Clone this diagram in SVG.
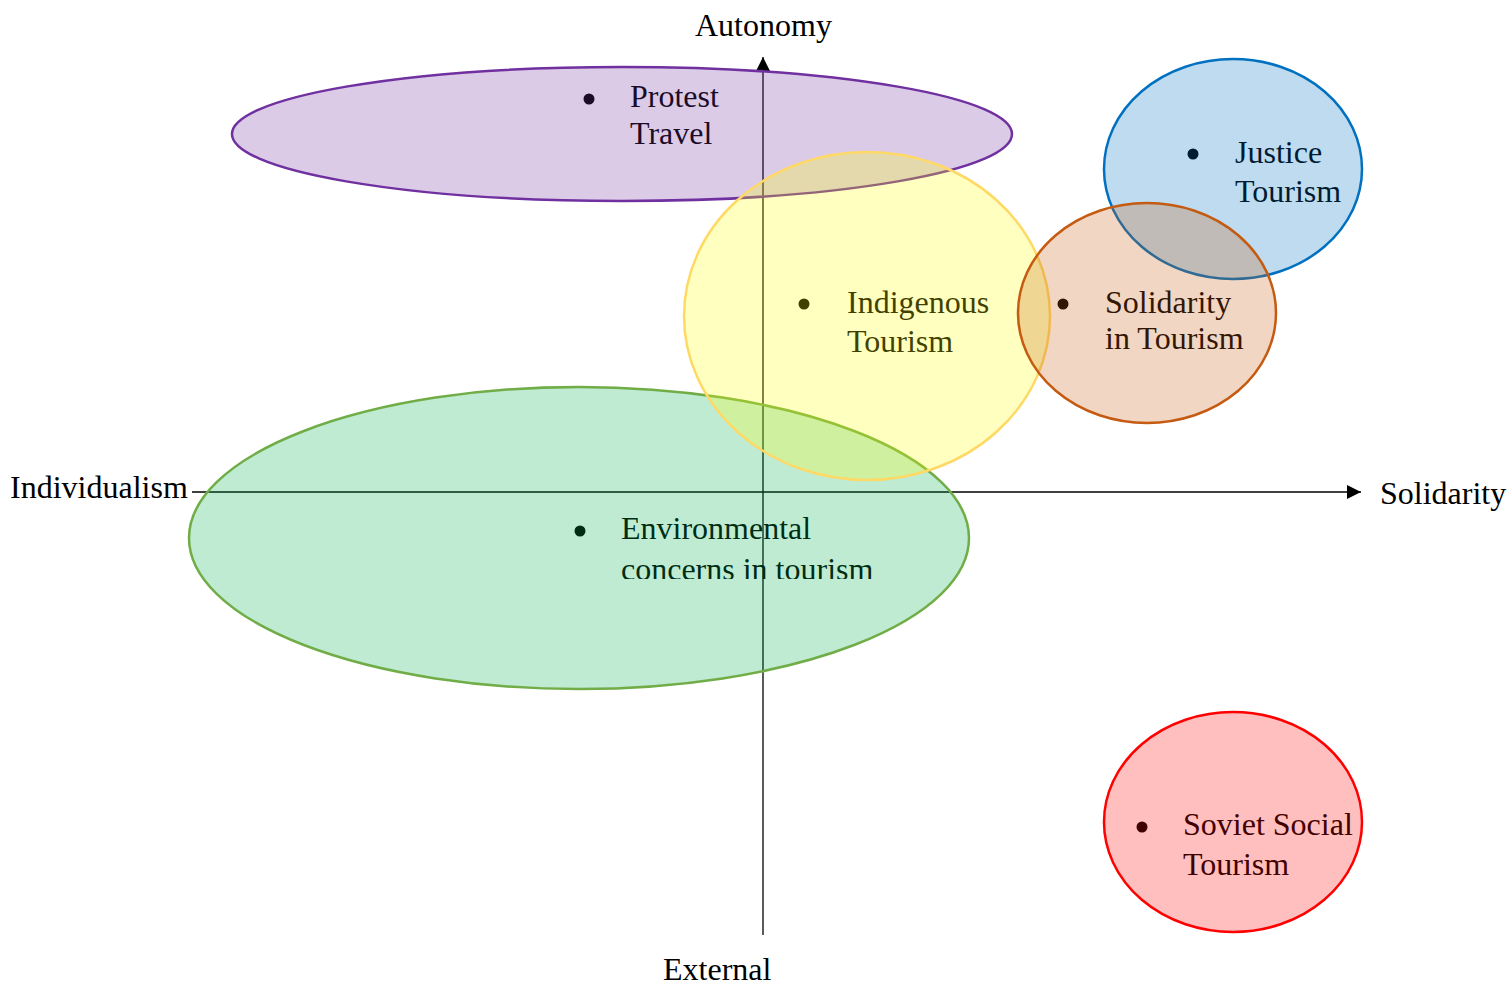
<svg xmlns="http://www.w3.org/2000/svg" width="1510" height="985" viewBox="0 0 1510 985">
<style>
text{font-family:"Liberation Serif","Times New Roman",serif;font-size:32px;fill:#000}
.ax{stroke:#000;stroke-width:1.3;fill:none}
.dot{fill:#000}
.e{stroke-width:2.5;fill-opacity:0.25}
</style>
<defs>
<marker id="arr" viewBox="0 0 10 10" refX="10" refY="5" markerWidth="16" markerHeight="14" markerUnits="userSpaceOnUse" orient="auto">
<path d="M0,0 L10,5 L0,10 Z" fill="#000"/>
</marker>
<clipPath id="envclip"><rect x="0" y="0" width="1510" height="579"/></clipPath>
</defs>
<rect width="1510" height="985" fill="#fff"/>
<g id="connectors">
<line class="ax" x1="763" y1="935" x2="763" y2="57" marker-end="url(#arr)"/>
<line class="ax" x1="192" y1="492" x2="1361" y2="492" marker-end="url(#arr)"/>
</g>
<g id="axis-labels">
<text x="695" y="36">Autonomy</text>
<text x="10" y="498">Individualism</text>
<text x="1380" y="504">Solidarity</text>
<text x="663" y="980">External</text>
</g>
<g id="protest-travel">
<circle class="dot" cx="589" cy="99" r="5.5"/>
<text x="630" y="107">Protest</text>
<text x="630" y="144">Travel</text>
<ellipse class="e" cx="622" cy="134" rx="390" ry="67" fill="#7030a0" stroke="#7030a0"/>
</g>
<g id="environmental">
<circle class="dot" cx="580" cy="531" r="5.5"/>
<g clip-path="url(#envclip)">
<text x="621" y="539">Environmental</text>
<text x="621" y="580">concerns in tourism</text>
</g>
<ellipse class="e" cx="579" cy="538" rx="390" ry="151" fill="#00b050" stroke="#70ad47"/>
</g>
<g id="indigenous">
<circle class="dot" cx="804" cy="304" r="5.5"/>
<text x="847" y="313">Indigenous</text>
<text x="847" y="352">Tourism</text>
<ellipse class="e" cx="867" cy="316" rx="183" ry="164" fill="#ffff00" stroke="#ffd966"/>
</g>
<g id="justice">
<circle class="dot" cx="1193" cy="154" r="5.5"/>
<text x="1235" y="163">Justice</text>
<text x="1235" y="202">Tourism</text>
<ellipse class="e" cx="1233" cy="169" rx="129" ry="110" fill="#0070c0" stroke="#0070c0"/>
</g>
<g id="solidarity">
<circle class="dot" cx="1063" cy="304" r="5.5"/>
<text x="1105" y="313">Solidarity</text>
<text x="1105" y="349">in Tourism</text>
<ellipse class="e" cx="1147" cy="313" rx="129" ry="110" fill="#c55a11" stroke="#c55a11"/>
</g>
<g id="soviet">
<circle class="dot" cx="1142" cy="827" r="5.5"/>
<text x="1183" y="835">Soviet Social</text>
<text x="1183" y="875">Tourism</text>
<ellipse class="e" cx="1233" cy="822" rx="129" ry="110" fill="#ff0000" stroke="#ff0000"/>
</g>
</svg>
